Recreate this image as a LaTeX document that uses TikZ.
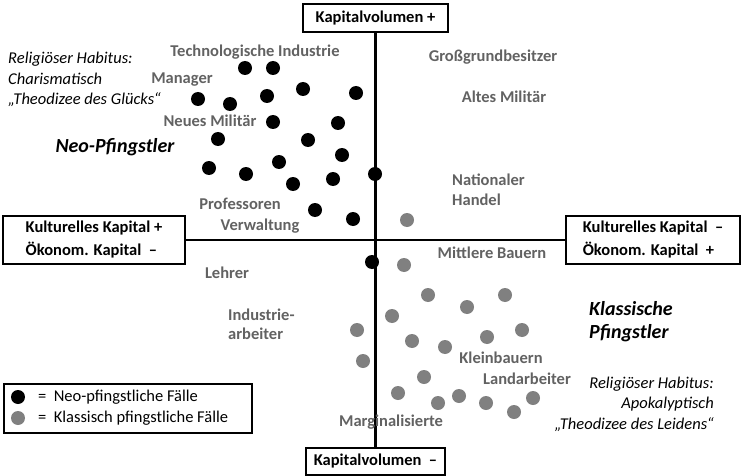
\documentclass[tikz,border=0pt]{standalone}
\usepackage{fontspec}
\setmainfont{Carlito}
\definecolor{labgray}{RGB}{98,98,98}
\definecolor{dotgray}{RGB}{128,128,128}
\begin{document}
\begin{tikzpicture}[x=1pt,y=-1pt,
  box/.style={draw, line width=1.3pt, fill=white, inner sep=0pt, align=left,
    font=\bfseries\fontsize{16.5}{23}\selectfont},
  axis/.style={line width=2.6pt},
  grp/.style={inner sep=0pt, text=labgray, font=\bfseries\fontsize{16.5}{19.5}\selectfont},
  neo/.style={circle, fill=black, minimum size=14pt, inner sep=0pt},
  kla/.style={circle, fill=dotgray, minimum size=14pt, inner sep=0pt},
  note/.style={inner sep=0pt, font=\itshape\fontsize{16.5}{20.5}\selectfont},
  ttl/.style={inner sep=0pt, font=\bfseries\itshape\fontsize{20}{23}\selectfont},
  leg/.style={inner sep=0pt, anchor=west, font=\fontsize{16.5}{20}\selectfont}]

\useasboundingbox (0,0) rectangle (741,476);

% axis boxes
\node[box, minimum width=145pt, minimum height=28pt, align=center] (top) at (375.5,18) {Kapitalvolumen +};
\node[box, minimum width=139pt, minimum height=27pt, align=center] (bot) at (375.5,461.5) {Kapitalvolumen~~–};
\node[box, minimum width=182pt, minimum height=48pt] (lft) at (94,240) {Kulturelles Kapital +\\Ökonom. Kapital~~–};
\node[box, minimum width=174pt, minimum height=48pt] (rgt) at (653,240) {Kulturelles Kapital~~–\\Ökonom. Kapital~~+};

% axes
\draw[axis] (top.south) -- (top.south |- bot.north);
\draw[axis] (lft.east) -- (rgt.west);

% group labels
\node[grp] (tech) at (255,52) {Technologische Industrie};
\node[grp] (mgr) at (182,80) {Manager};
\node[grp] (nmil) at (210,121) {Neues Militär};
\node[grp] (prof) at (240,204) {Professoren};
\node[grp] (verw) at (260,226) {Verwaltung};
\node[grp] (ggb) at (493,57) {Großgrundbesitzer};
\node[grp] (amil) at (504,97) {Altes Militär};
\node[grp, anchor=west, align=left] (nhan) at (452,190) {Nationaler\\Handel};
\node[grp] (mbau) at (492,253) {Mittlere Bauern};
\node[grp] (lehr) at (227,273) {Lehrer};
\node[grp, anchor=west, align=left] (iarb) at (228,324.5) {Industrie-\\arbeiter};
\node[grp] (kbau) at (501,358) {Kleinbauern};
\node[grp] (larb) at (527,379) {Landarbeiter};
\node[grp] (marg) at (391,422) {Marginalisierte};

% neo-pentecostal cases
\foreach \px/\py [count=\i] in {245/68, 273/68, 267/96, 303/89, 356/93, 198/99, 230/104,
    273/122, 338/123, 218/139, 308/140, 342/155, 279/162, 209/168, 246/174, 293/184,
    333/179, 375/174, 315/210, 353/219, 372/262}
  \node[neo] (n\i) at (\px,\py) {};

% classical pentecostal cases
\foreach \px/\py [count=\i] in {407/220, 404/265, 428/295, 467/307, 505/295, 392/316,
    522/330, 487/337, 412/341, 445/347, 424/377, 398/393, 438/403, 459/396, 486/403,
    533/398, 514/412, 357/330, 363/361}
  \node[kla] (k\i) at (\px,\py) {};

% titles and habitus notes
\node[ttl] (neot) at (115,147) {Neo-Pfingstler};
\node[ttl, anchor=west, align=left] (klat) at (589,321.5) {Klassische\\Pfingstler};
\node[note, anchor=west, align=left] (habl) at (8,79.5) {Religiöser Habitus:\\Charismatisch\\„Theodizee des Glücks“};
\node[note, anchor=east, align=right] (habr) at (714,404) {Religiöser Habitus:\\Apokalyptisch\\„Theodizee des Leidens“};

% legend
\node[draw, line width=1.1pt, minimum width=248pt, minimum height=49pt, inner sep=0pt] (legbox) at (128,408.5) {};
\node[neo] (legn) at (18,397) {};
\node[kla] (legk) at (18,418) {};
\node[leg] (legnt) at (38,397) {=\hspace{0.45em}Neo-pfingstliche Fälle};
\node[leg] (legkt) at (38,418) {=\hspace{0.45em}Klassisch pfingstliche Fälle};
\end{tikzpicture}
\end{document}
